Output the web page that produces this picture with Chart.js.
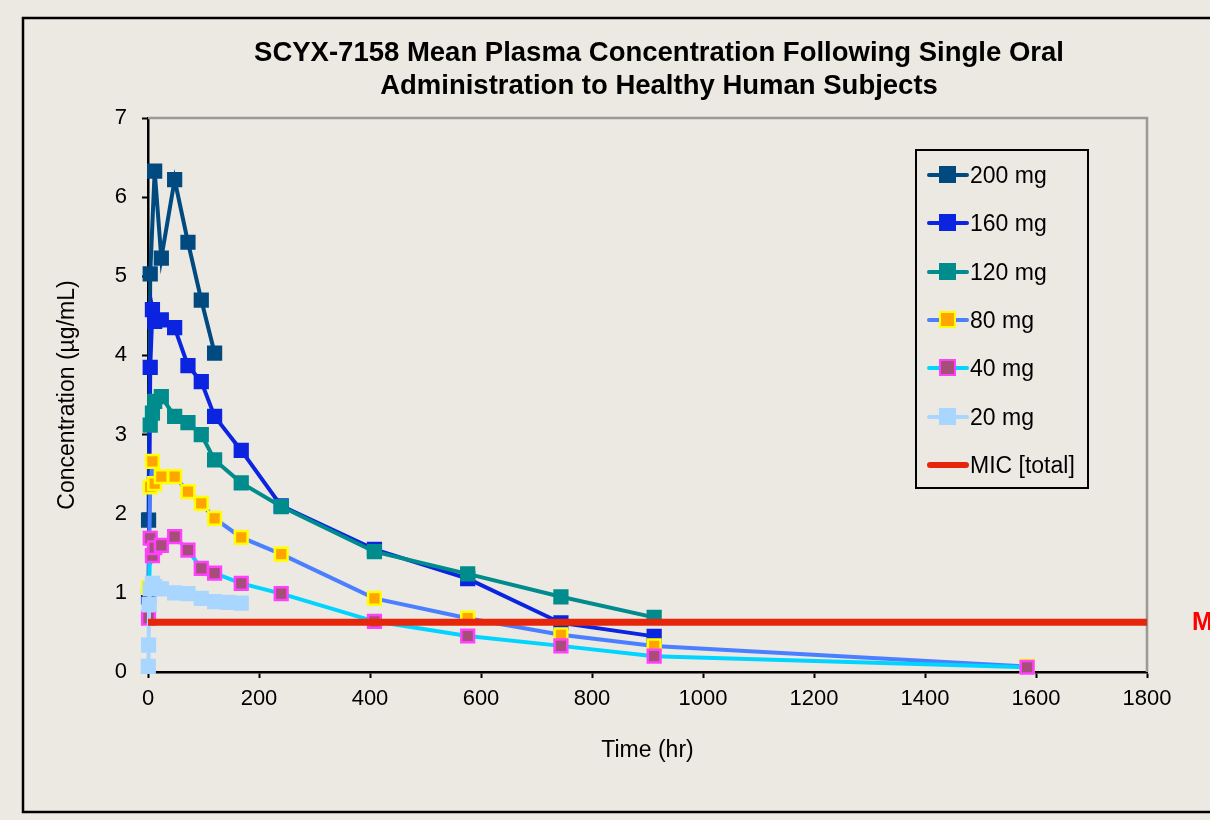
<!DOCTYPE html>
<html>
<head>
<meta charset="utf-8">
<script src="https://cdn.jsdelivr.net/npm/chart.js@4"></script>
<style>
  body { margin: 0; background: #ECE9E3; font-family: "Liberation Sans", Arial, sans-serif; }
  #wrap { position: relative; width: 1210px; height: 820px; overflow: hidden; }
  #legend { position: absolute; left: 915px; top: 149px; width: 174px; height: 340px;
            border: 2.5px solid #000; box-sizing: border-box; }
  .row { position: absolute; left: 8px; height: 30px; }
  .row .ln { position: absolute; left: 2px; top: 13px; width: 42px; height: 4px; border-radius: 2px; }
  .row .mk { position: absolute; left: 14px; top: 6px; width: 13px; height: 13px; border: 2.5px solid; }
  .row .tx { position: absolute; left: 45px; top: 1px; font-size: 23px; line-height: 28px; color: #000; white-space: nowrap; }
</style>
</head>
<body>
<div id="wrap">
  <canvas id="grafico" width="1210" height="820"></canvas>
  <div id="legend"></div>
</div>
<script>
// datos (hr, ug/mL)
const times = [0.5, 1, 2, 4, 8, 12, 24, 48, 72, 96, 120, 144, 168, 240, 408, 576, 744, 912, 1584];
const doses = ['200 mg', '160 mg', '120 mg', '80 mg', '40 mg', '20 mg'];
const conc200 = [null, 1.92, null, 5.03, null, 6.33, 5.23, 6.22, 5.43, 4.70, 4.03, null, null, null, null, null, null, null, null];
const conc160 = [null, 0.95, null, 3.85, 4.58, 4.43, 4.45, 4.35, 3.87, 3.67, 3.23, null, 2.80, 2.10, 1.55, 1.18, 0.62, 0.45, null];
const conc120 = [null, null, null, 3.12, 3.27, 3.42, 3.48, 3.23, 3.15, 3.00, 2.68, null, 2.39, 2.09, 1.52, 1.24, 0.95, 0.69, null];
const conc80  = [null, 1.07, null, 2.34, 2.66, 2.38, 2.47, 2.47, 2.28, 2.13, 1.94, null, 1.70, 1.49, 0.93, 0.68, 0.47, 0.33, 0.07];
const conc40  = [null, 0.68, null, 1.69, 1.47, 1.57, 1.60, 1.71, 1.54, 1.31, 1.25, null, 1.12, 0.99, 0.64, 0.455, 0.33, 0.20, 0.06];
const conc20  = [0.07, 0.34, 0.85, 1.05, 1.12, 1.08, 1.05, 1.00, 0.99, 0.93, 0.89, 0.88, 0.87, null, null, null, null, null, null];
const micLabel = 'MIC [total]';
const micValue = 0.63;
const micRange = [0, 1800];
const xTicks = [0, 200, 400, 600, 800, 1000, 1200, 1400, 1600, 1800];
const yTicks = [0, 1, 2, 3, 4, 5, 6, 7];
const titleLines = ['SCYX-7158 Mean Plasma Concentration Following Single Oral', 'Administration to Healthy Human Subjects'];

// colores de cada serie
const lineColors = ['#004A80', '#0A24E0', '#008C8C', '#4A80FF', '#00D4FF', '#A8D6FF'];
const markFill   = ['#004A80', '#0A24E0', '#008C8C', '#FFA500', '#A64D79', '#A8D6FF'];
const markEdge   = ['#004A80', '#0A24E0', '#008C8C', '#FFFF00', '#FF40FF', '#A8D6FF'];
const micColor = '#E6260A';
const fondo = '#ECE9E3';

const series = [conc200, conc160, conc120, conc80, conc40, conc20];

function puntos(values) {
  return times.map((t, i) => ({ x: t, y: values[i] })).filter(p => p.y !== null);
}

const datasets = series.map((vals, i) => ({
  label: doses[i],
  data: puntos(vals),
  borderColor: lineColors[i],
  borderWidth: 4,
  pointStyle: 'rect',
  pointRadius: 9,
  pointBackgroundColor: markFill[i],
  pointBorderColor: markEdge[i],
  pointBorderWidth: 2.5,
  clip: false,
  order: series.length - i + 1
}));
datasets.push({
  label: micLabel,
  data: micRange.map(t => ({ x: t, y: micValue })),
  borderColor: micColor,
  borderWidth: 7,
  pointRadius: 0,
  order: 0
});

// fondo, marco exterior, titulo y borde gris del area
const marco = {
  id: 'marco',
  beforeDraw(chart) {
    const c = chart.ctx;
    c.save();
    c.fillStyle = fondo;
    c.fillRect(0, 0, chart.width, chart.height);
    c.strokeStyle = '#000';
    c.lineWidth = 2.5;
    c.strokeRect(23, 18, 1300, 794);
    c.fillStyle = '#000';
    c.font = 'bold 27.5px "Liberation Sans", Arial, sans-serif';
    c.textAlign = 'center';
    c.textBaseline = 'middle';
    c.fillText(titleLines[0], 659, 53);
    c.fillText(titleLines[1], 659, 86);
    c.restore();
  },
  beforeDatasetsDraw(chart) {
    const a = chart.chartArea, c = chart.ctx;
    c.save();
    c.strokeStyle = '#999';
    c.lineWidth = 2.5;
    c.beginPath();
    c.moveTo(a.left, a.top);
    c.lineTo(a.right, a.top);
    c.lineTo(a.right, a.bottom);
    c.stroke();
    c.restore();
  },
  afterDraw(chart) {
    const c = chart.ctx;
    const y = chart.scales.y.getPixelForValue(micValue);
    c.save();
    c.fillStyle = '#FF0000';
    c.font = 'bold 25px "Liberation Sans", Arial, sans-serif';
    c.textAlign = 'left';
    c.textBaseline = 'alphabetic';
    c.fillText('MIC', 1192, y + 8);
    c.restore();
  }
};

Chart.defaults.font.family = '"Liberation Sans", Arial, sans-serif';
Chart.defaults.color = '#000';

const ctx = document.getElementById('grafico');
new Chart(ctx, {
  type: 'line',
  data: { datasets: datasets },
  options: {
    responsive: false,
    animation: false,
    devicePixelRatio: 1,
    layout: { padding: { left: 54, right: 63, top: 118, bottom: 53 } },
    plugins: { legend: { display: false }, tooltip: { enabled: false } },
    elements: { line: { tension: 0 } },
    scales: {
      x: {
        type: 'linear',
        min: xTicks[0],
        max: xTicks[xTicks.length - 1],
        afterBuildTicks: ax => { ax.ticks = xTicks.map(v => ({ value: v })); },
        afterFit: ax => { ax.height = 95; },
        ticks: { font: { size: 22 }, padding: 8, maxRotation: 0, callback: v => String(v) },
        grid: { drawOnChartArea: false, tickLength: 6, tickColor: '#000', tickWidth: 2 },
        border: { color: '#000', width: 2.5 },
        title: { display: true, text: 'Time (hr)', font: { size: 23 }, padding: { top: 0, bottom: 3 } }
      },
      y: {
        min: yTicks[0],
        max: yTicks[yTicks.length - 1],
        afterBuildTicks: ax => { ax.ticks = yTicks.map(v => ({ value: v })); },
        afterFit: ax => { ax.width = 94; },
        ticks: { font: { size: 22 }, padding: 15, callback: v => String(v) },
        grid: { drawOnChartArea: false, tickLength: 6, tickColor: '#000', tickWidth: 2 },
        border: { color: '#000', width: 2.5 },
        title: { display: true, text: 'Concentration (µg/mL)', font: { size: 23 }, padding: { top: 0, bottom: 0 } }
      }
    }
  },
  plugins: [marco]
});

// leyenda en html
const leyenda = document.getElementById('legend');
const filas = doses.map((d, i) => ({ name: d, line: lineColors[i], fill: markFill[i], edge: markEdge[i] }));
filas.push({ name: micLabel, line: micColor, fill: null });
filas.forEach((f, i) => {
  const row = document.createElement('div');
  row.className = 'row';
  row.style.top = (9 + i * 48.3) + 'px';
  let html = '<div class="ln" style="background:' + f.line + (f.fill ? '' : ';height:6px;top:12px;border-radius:3px') + '"></div>';
  if (f.fill) html += '<div class="mk" style="background:' + f.fill + ';border-color:' + f.edge + '"></div>';
  html += '<div class="tx">' + f.name + '</div>';
  row.innerHTML = html;
  leyenda.appendChild(row);
});
</script>
</body>
</html>
